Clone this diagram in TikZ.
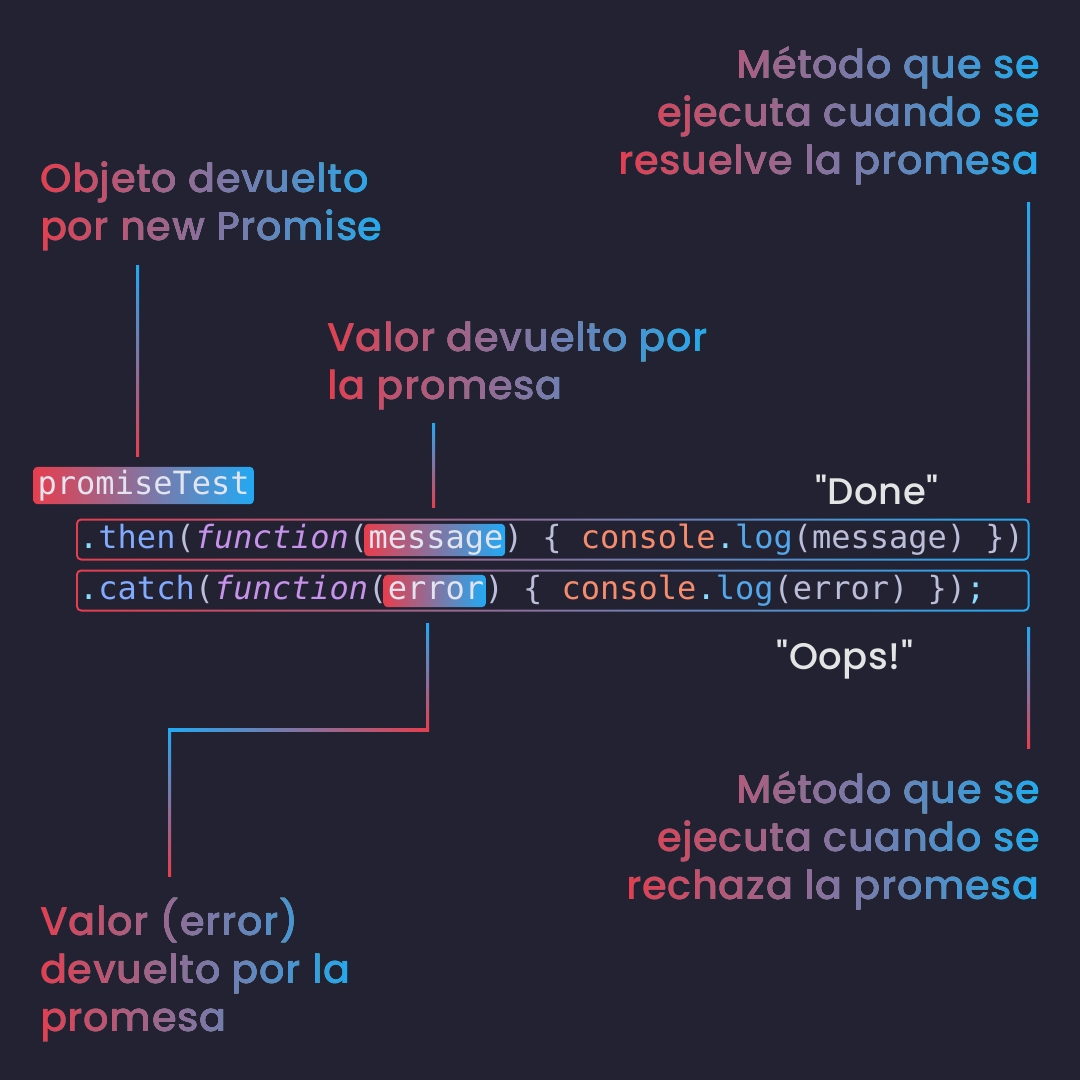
\documentclass[tikz,border=0pt]{standalone}
\usepackage{fontspec}
\usetikzlibrary{backgrounds,positioning}

\newfontfamily\labelfont{Poppins Medium}[LetterSpace=1.5]
\newfontfamily\quotefont{Poppins Medium}[LetterSpace=1.5]
\newfontfamily\codefont{DejaVu Sans Mono}

\definecolor{bgcol}{HTML}{222233}
\definecolor{gradred}{HTML}{E63E4E}
\definecolor{gradblue}{HTML}{22A9F4}
\definecolor{cpunct}{HTML}{A6ACCD}
\definecolor{cmethod}{HTML}{82AAFF}
\definecolor{cdot}{HTML}{89DDFF}
\definecolor{ckw}{HTML}{C792EA}
\definecolor{cobj}{HTML}{F78C6C}
\definecolor{clog}{HTML}{52A8EA}
\definecolor{cvar}{HTML}{BABED8}
\definecolor{chl}{HTML}{E2E4F0}
\definecolor{cquote}{HTML}{E4E4E4}

\newcommand\ls{\rule{0pt}{34pt}}% first baseline 34pt under the node top
\newcommand\vgline[2]{\shade[top color=gradblue,bottom color=gradred] ([xshift=-1.5pt]#1) rectangle ([xshift=1.5pt]#2);}

\begin{document}
\begin{tikzpicture}[x=1pt,y=-1pt,
        lbl/.style={font=\labelfont\fontsize{40}{48}\selectfont, text=white, inner sep=0pt},
        code/.style={font=\codefont\fontsize{32}{32}\selectfont, text=cvar, inner sep=0pt, text height=24pt, text depth=8pt},
        quote/.style={font=\quotefont\fontsize{37}{37}\selectfont, text=cquote, inner sep=0pt},
        hl/.style={left color=gradred, right color=gradblue, rounded corners=4pt},
        fade/.style={left color=gradred, right color=gradblue}]
\useasboundingbox (0,0) rectangle (1080,1080);

% code lines
\node[code, anchor=base west, text=chl] (pt) at (37.5,494) {promiseTest};

\node[code, anchor=base west] (thenA) at (79,548) {\textcolor{cdot}{.}\textcolor{cmethod}{then}(\textcolor{ckw}{\itshape function}(};
\node[code, anchor=base west, text=chl] (msg) at (thenA.base east) {message};
\node[code, anchor=base west] (thenB) at (msg.base east) {) \{ \textcolor{cobj}{console}\textcolor{cdot}{.}\textcolor{clog}{log}(message) \})};

\node[code, anchor=base west] (catchA) at (79,599) {\textcolor{cdot}{.}\textcolor{cmethod}{catch}(\textcolor{ckw}{\itshape function}(};
\node[code, anchor=base west, text=chl] (err) at (catchA.base east) {error};
\node[code, anchor=base west] (catchB) at (err.base east) {) \{ \textcolor{cobj}{console}\textcolor{cdot}{.}\textcolor{clog}{log}(error) \})\textcolor{cdot}{;}};

\begin{scope}[on background layer]
\fill[bgcol] (0,0) rectangle (1080,1080);
% boxes round the two calls
\shade[fade, rounded corners=5pt] (76,518.5) rectangle (1029.5,560.5);
\fill[bgcol, rounded corners=3.5pt] (78,520.5) rectangle (1027.5,558.5);
\shade[fade, rounded corners=5pt] (76,569.5) rectangle (1029.5,611.5);
\fill[bgcol, rounded corners=3.5pt] (78,571.5) rectangle (1027.5,609.5);
% highlights
\shade[hl] ([xshift=-4pt,yshift=-2pt]pt.south west) rectangle ([xshift=4pt,yshift=3pt]pt.north east);
\shade[hl] ([xshift=-4pt]msg.south west) rectangle ([xshift=1.5pt]msg.north east);
\shade[hl] ([xshift=-4pt]err.south west) rectangle ([xshift=1.5pt]err.north east);
\end{scope}

% labels
\node[lbl, anchor=north west, align=left] (objLbl) at (40,158) {\ls Objeto devuelto\\por new Promise};
\node[lbl, anchor=north west, align=left] (valLbl) at (327,317) {\ls Valor devuelto por\\la promesa};
\node[lbl, anchor=north east, align=right] (thenLbl) at (1040,44) {\ls Método que se\\ejecuta cuando se\\resuelve la promesa};
\node[lbl, anchor=north west, align=left] (errLbl) at (40,897.5) {\ls Valor (error)\\devuelto por la\\promesa};
\node[lbl, anchor=north east, align=right] (catchLbl) at (1040,769.3) {\ls Método que se\\ejecuta cuando se\\rechaza la promesa};

\begin{scope}[blend mode=darken]
\foreach \l in {objLbl,valLbl,thenLbl,errLbl,catchLbl}
  \shade[fade] (\l.south west) rectangle (\l.north east);
\end{scope}

\node[quote, anchor=base] (done) at (877,504) {"Done"};
\node[quote, anchor=base] (oops) at (845,669) {"Oops!"};

% connectors
\coordinate (aTop) at (137.5,265);
\coordinate (aBot) at (137.5,456);
\coordinate (bTop) at (433.5,423);
\coordinate (bBot) at (433.5,507);
\coordinate (cTop) at (1028.5,202);
\coordinate (cBot) at (1028.5,502);
\coordinate (dTop) at (427.5,623);
\coordinate (dMid) at (427.5,729.5);
\coordinate (dTurn) at (169.5,729.5);
\coordinate (dBot) at (169.5,876);
\coordinate (eTop) at (1028.5,627);
\coordinate (eBot) at (1028.5,748);

\vgline{aTop}{aBot}
\vgline{bTop}{bBot}
\vgline{cTop}{cBot}
\vgline{eTop}{eBot}
\vgline{dTop}{dMid}
\shade[left color=gradblue,right color=gradred] ([xshift=-1.5pt,yshift=1.5pt]dTurn) rectangle ([xshift=1.5pt,yshift=-1.5pt]dMid);
\vgline{dTurn}{dBot}

\end{tikzpicture}
\end{document}
